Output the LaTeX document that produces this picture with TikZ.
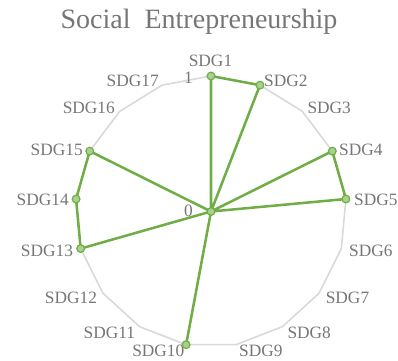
\documentclass[tikz,border=0pt]{standalone}
\usepackage{fontspec}
\setmainfont{Liberation Serif}
\definecolor{txt}{RGB}{118,118,118}
\definecolor{gridc}{RGB}{217,217,217}
\definecolor{ser}{RGB}{112,173,71}
\definecolor{serfill}{RGB}{169,209,142}
\begin{document}
\begin{tikzpicture}[x=0.75pt,y=-0.75pt,
  lbl/.style={text=txt,font=\fontsize{13}{15}\selectfont,inner sep=0pt,anchor=base},
  ttl/.style={text=txt,font=\fontsize{21}{25}\selectfont,inner sep=0pt,anchor=base},
  mk/.style={circle,draw=ser,fill=serfill,line width=0.9pt,minimum size=5.8pt,inner sep=0pt},
  gridline/.style={gridc,line width=1.2pt,line join=round},
  serline/.style={ser,line width=1.9pt,line join=round}]
\useasboundingbox (0,0) rectangle (398,360);
\coordinate (O) at (211,211.5);
\foreach \i in {1,...,17}{
  \coordinate (g\i) at ({211+135.5*sin((\i-1)*360/17)},{211.5-135.5*cos((\i-1)*360/17)});
}
% grid ring
\draw[gridline] (g1)--(g2)--(g3)--(g4)--(g5)--(g6)--(g7)--(g8)--(g9)--(g10)--(g11)--(g12)--(g13)--(g14)--(g15)--(g16)--(g17)--cycle;
% title
\node[ttl] (title) at (199,28.3) {Social\ \ Entrepreneurship};
% axis value labels
\node[lbl] (v1) at (188.5,83.3) {1};
\node[lbl] (v0) at (188.5,216.7) {0};
% category labels
\node[lbl] (l1) at (210.5,66.7) {SDG1};
\node[lbl] (l2) at (285.8,86) {SDG2};
\node[lbl] (l3) at (329.2,113.3) {SDG3};
\node[lbl] (l4) at (360.8,155) {SDG4};
\node[lbl] (l5) at (375.8,205) {SDG5};
\node[lbl] (l6) at (370.8,256) {SDG6};
\node[lbl] (l7) at (347.5,303.3) {SDG7};
\node[lbl] (l8) at (309.2,338.3) {SDG8};
\node[lbl] (l9) at (260.8,356.7) {SDG9};
\node[lbl] (l10) at (158.3,356.7) {SDG10};
\node[lbl] (l11) at (109.3,338.3) {SDG11};
\node[lbl] (l12) at (71,303.3) {SDG12};
\node[lbl] (l13) at (47,256) {SDG13};
\node[lbl] (l14) at (42.7,205) {SDG14};
\node[lbl] (l15) at (56.7,155) {SDG15};
\node[lbl] (l16) at (88.8,113.3) {SDG16};
\node[lbl] (l17) at (132.7,86) {SDG17};
% data series
\draw[serline] (g1)--(g2)--(O)--(g4)--(g5)--(O)--(g10)--(O)--(g13)--(g14)--(g15)--(O)--cycle;
\foreach \p in {O,g1,g2,g4,g5,g10,g13,g14,g15}{
  \node[mk] (m\p) at (\p) {};
}
\end{tikzpicture}
\end{document}
